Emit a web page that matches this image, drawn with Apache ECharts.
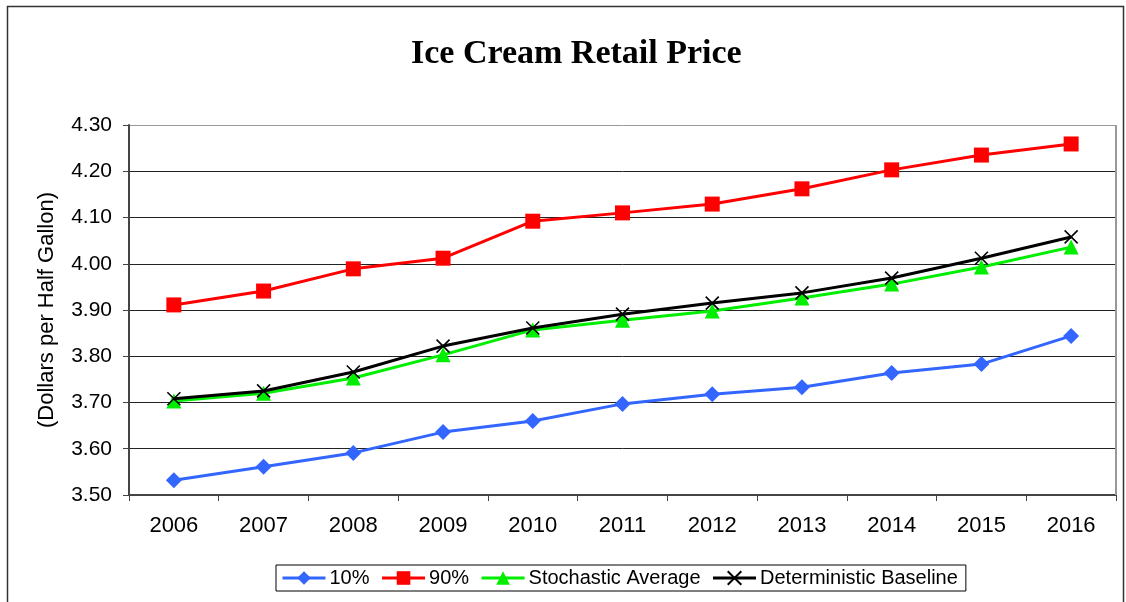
<!DOCTYPE html>
<html>
<head>
<meta charset="utf-8">
<script src="https://cdn.jsdelivr.net/npm/echarts@6/dist/echarts.min.js"></script>
<style>
  html, body { margin: 0; padding: 0; background: #fff; }
  #chart { width: 1126px; height: 602px; }
</style>
</head>
<body>
<div id="chart"></div>
<script>
(function(){

    var years = ['2006','2007','2008','2009','2010','2011','2012','2013','2014','2015','2016'];
    var p10 = [3.532, 3.561, 3.591, 3.636, 3.660, 3.697, 3.718, 3.733, 3.764, 3.783, 3.844];
    var p90 = [3.911, 3.941, 3.989, 4.012, 4.092, 4.110, 4.129, 4.162, 4.203, 4.235, 4.259];
    var stochAvg = [3.703, 3.720, 3.753, 3.803, 3.857, 3.878, 3.898, 3.926, 3.956, 3.993, 4.036];
    var detBase = [3.708, 3.725, 3.766, 3.822, 3.861, 3.891, 3.915, 3.937, 3.969, 4.012, 4.058];

    var crossPath = 'path://M0,0L10,10M10,0L0,10';
    var chart = echarts.init(document.getElementById('chart'));

    function line(name, data, color, symbol, size, extra){
        var s = {
            name: name,
            type: 'line',
            data: data,
            symbol: symbol,
            symbolSize: size,
            lineStyle: { color: color, width: 3 },
            itemStyle: { color: color },
            emphasis: { disabled: true },
            z: 3
        };
        if (extra) { for (var k in extra) s[k] = extra[k]; }
        return s;
    }

    // gridlines: dark, except the top one which is grey like the frame
    var gridColors = ['#222','#222','#222','#222','#222','#222','#222','#222','#999'];

    var option = {
        animation: false,
        textStyle: { fontFamily: 'Liberation Sans, Arial, sans-serif' },
        title: {
            text: 'Ice Cream Retail Price',
            left: 406,
            top: 32,
            textStyle: {
                fontFamily: 'Liberation Serif, Times New Roman, serif',
                fontSize: 34,
                fontWeight: 'bold',
                color: '#000'
            }
        },
        graphic: [{
            type: 'rect',
            shape: { x: 7.5, y: 6.5, width: 1116, height: 620 },
            style: { fill: 'none', stroke: '#333', lineWidth: 1.5 },
            silent: true
        }],
        legend: {
            bottom: 11,
            left: 276,
            itemWidth: 43,
            itemHeight: 17,
            itemGap: 11,
            padding: [3, 8, 3, 5],
            borderColor: '#000',
            borderWidth: 1,
            lineStyle: { width: 3 },
            textStyle: { fontSize: 20, color: '#000', padding: [0, 0, 0, -1] },
            data: ['10%', '90%', 'Stochastic Average', 'Deterministic Baseline']
        },
        grid: { left: 129, right: 10, top: 125, bottom: 107 },
        xAxis: {
            type: 'category',
            data: years,
            boundaryGap: true,
            axisLine: { lineStyle: { color: '#444', width: 2 } },
            axisTick: { show: true, length: 6, lineStyle: { color: '#444' } },
            axisLabel: { fontSize: 22, color: '#000', margin: 20 }
        },
        yAxis: {
            type: 'value',
            min: 3.5,
            max: 4.3,
            interval: 0.1,
            name: '(Dollars per Half Gallon)',
            nameLocation: 'middle',
            nameGap: 71,
            nameTextStyle: { fontSize: 22, color: '#000' },
            axisLine: { show: true, lineStyle: { color: '#444', width: 2 } },
            axisTick: { show: true, length: 6, lineStyle: { color: '#444' } },
            axisLabel: {
                fontSize: 21,
                color: '#000',
                margin: 17,
                formatter: function(v){ return v.toFixed(2); }
            },
            splitLine: { show: true, lineStyle: { color: gridColors, width: 1 } }
        },
        series: [
            line('10%', p10, '#3366FF', 'diamond', 16),
            line('90%', p90, '#FF0000', 'rect', 15),
            line('Stochastic Average', stochAvg, '#00EE00', 'triangle', 15),
            line('Deterministic Baseline', detBase, '#000000', crossPath, 13, {
                itemStyle: { color: 'none', borderColor: '#000', borderWidth: 1.6 },
                z: 4
            }),
            {
                // right frame of the plot area
                type: 'line',
                data: [],
                markLine: {
                    silent: true,
                    symbol: 'none',
                    label: { show: false },
                    lineStyle: { color: '#999', width: 2, type: 'solid' },
                    data: [[{ coord: ['2016', 3.5], x: 1116 }, { coord: ['2016', 4.3], x: 1116 }]]
                }
            }
        ]
    };

    chart.setOption(option);

})();
</script>
</body>
</html>
